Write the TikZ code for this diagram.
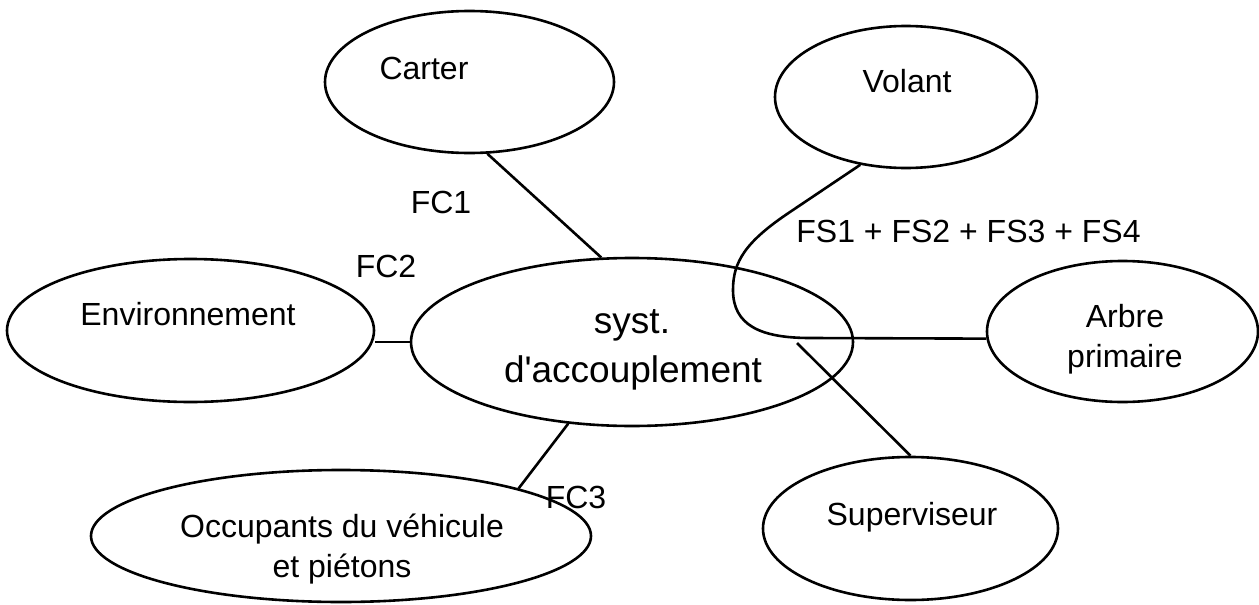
\documentclass[tikz,border=0pt]{standalone}
\usepackage{fontspec}
\setmainfont{Liberation Sans}
\usetikzlibrary{shapes.geometric}
\begin{document}
\begin{tikzpicture}[x=0.5pt,y=-0.5pt,line width=1.3pt,
        bulle/.style={ellipse,draw,inner sep=0pt},
        txt/.style={anchor=base,inner sep=0pt,font=\fontsize{16}{19}\selectfont}]
        \useasboundingbox (0,0) rectangle (1259,605);
        % les ellipses
        \node[bulle,minimum width=144.5pt,minimum height=71pt] (carter) at (469.5,82) {};
        \node[bulle,minimum width=131pt,minimum height=71pt] (volant) at (906,97) {};
        \node[bulle,minimum width=183.5pt,minimum height=71.5pt] (env) at (190.5,330.5) {};
        \node[bulle,minimum width=221pt,minimum height=84pt] (central) at (632,342) {};
        \node[bulle,minimum width=135.5pt,minimum height=70.5pt] (arbre) at (1122.5,331.5) {};
        \node[bulle,minimum width=147.5pt,minimum height=71.5pt] (superv) at (910.5,528.5) {};
        \node[bulle,minimum width=250pt,minimum height=66pt] (occ) at (341,536) {};
        % les textes
        \node[txt] (carter-t) at (424,79) {Carter};
        \node[txt] (volant-t) at (907,92) {Volant};
        \node[txt] (env-t) at (188,325) {Environnement};
        \node[txt,font=\fontsize{18.5}{22}\selectfont] (central-t1) at (632,333) {syst.};
        \node[txt,font=\fontsize{18.5}{22}\selectfont] (central-t2) at (633,382) {d\textquotesingle accouplement};
        \node[txt] (arbre-t1) at (1125,327) {Arbre};
        \node[txt] (arbre-t2) at (1125,367) {primaire};
        \node[txt] (superv-t) at (912,525) {Superviseur};
        \node[txt] (occ-t1) at (342,537) {Occupants du véhicule};
        \node[txt] (occ-t2) at (342,577) {et piétons};
        % les fonctions
        \node[txt] (fc1) at (441,213) {FC1};
        \node[txt] (fc2) at (386,277) {FC2};
        \node[txt] (fc3) at (576,508) {FC3};
        \node[txt] (fs) at (968.5,242) {FS1 + FS2 + FS3 + FS4};
        % les liaisons
        \draw (carter.-76) -- (central.110);
        \draw (central.west) -- (central.west -| env.east);
        \draw (central.-128) -- (occ.15);
        \coordinate (s0) at (797,343);
        \draw (s0) -- (superv.north);
        \draw (volant.236) -- (790,212) .. controls (745,242) and (733,262) .. (733,290)
                .. controls (733,325) and (760,338) .. (810,338) -- (arbre.183);
\end{tikzpicture}
\end{document}
